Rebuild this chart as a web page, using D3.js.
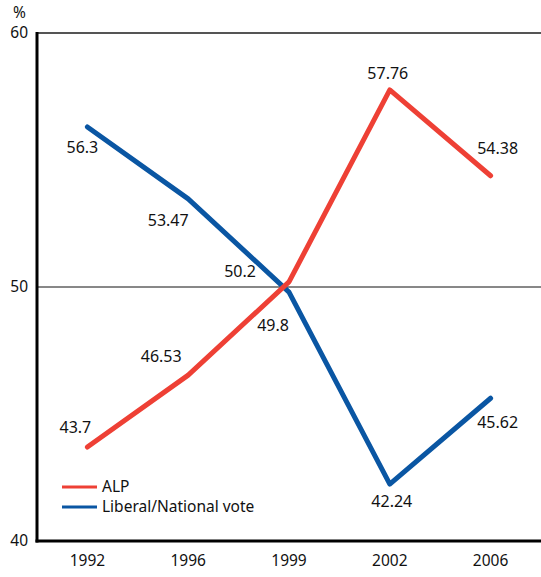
<!DOCTYPE html>
<html><head><meta charset="utf-8">
<script src="https://cdn.jsdelivr.net/npm/d3@7"></script>
<style>body{margin:0;background:#fff}svg text{font-family:"Noto Sans",sans-serif;fill:#111}</style>
</head><body><svg id="c" width="541" height="577"></svg>
<script>
const years = ["1992","1996","1999","2002","2006"];
const alp = [43.7, 46.53, 50.2, 57.76, 54.38];
const coalition = [56.3, 53.47, 49.8, 42.24, 45.62];
const seriesNames = ["ALP", "Liberal/National vote"];
const yTicks = [40, 50, 60];

// label placement (layout, not data): [dx, dy] relative to point
const alpLabelOff = [[-12,-20],[-27,-19],[-49,-11],[-2,-17],[7,-28]];
const coaLabelOff = [[-5,20],[-20,21],[-16,33],[2,17],[7,24]];

const svg = d3.select("#c");
const L = 37, R = 541, T = 33, B = 541;
const x = d3.scalePoint().domain(years).range([L, R]).padding(0.5);
const y = d3.scaleLinear().domain([40, 60]).range([B, T]);
const red = "#ee4035", blue = "#0a56a3";

svg.append("line").attr("x1", L).attr("x2", R).attr("y1", y(60)).attr("y2", y(60))
  .attr("stroke", "#555").attr("stroke-width", 2);
svg.append("line").attr("x1", L).attr("x2", R).attr("y1", y(50)).attr("y2", y(50))
  .attr("stroke", "#111").attr("stroke-width", 1);

svg.selectAll(".yt").data(yTicks).enter().append("text")
  .attr("x", 28).attr("y", d => y(d)).attr("dy", "0.35em")
  .attr("text-anchor", "end").attr("font-size", 15.5).text(d => d);
svg.append("text").attr("x", 13).attr("y", 18).attr("font-size", 15.5).text("%");

svg.selectAll(".xt").data(years).enter().append("text")
  .attr("x", d => x(d)).attr("y", 566).attr("text-anchor", "middle")
  .attr("font-size", 15.5).text(d => d);

const line = d3.line().x((d, i) => x(years[i])).y(d => y(d));
svg.append("path").datum(coalition).attr("d", line).attr("fill", "none")
  .attr("stroke", blue).attr("stroke-width", 5).attr("stroke-linecap", "round").attr("stroke-linejoin", "round");
svg.append("path").datum(alp).attr("d", line).attr("fill", "none")
  .attr("stroke", red).attr("stroke-width", 5).attr("stroke-linecap", "round").attr("stroke-linejoin", "round");

function labels(vals, offs) {
  svg.selectAll(null).data(vals).enter().append("text")
    .attr("x", (d, i) => x(years[i]) + offs[i][0])
    .attr("y", (d, i) => y(d) + offs[i][1])
    .attr("dy", "0.36em").attr("text-anchor", "middle").attr("font-size", 16)
    .text(d => d);
}
labels(alp, alpLabelOff);
labels(coalition, coaLabelOff);

svg.append("line").attr("x1", L).attr("x2", L).attr("y1", T - 1).attr("y2", B + 1.5)
  .attr("stroke", "#000").attr("stroke-width", 3);
svg.append("line").attr("x1", L - 1.5).attr("x2", R).attr("y1", B).attr("y2", B)
  .attr("stroke", "#000").attr("stroke-width", 3);

const leg = svg.append("g");
[red, blue].forEach((c, i) => {
  leg.append("line").attr("x1", 62).attr("x2", 97).attr("y1", 487 + i * 20).attr("y2", 487 + i * 20)
    .attr("stroke", c).attr("stroke-width", 3);
  leg.append("text").attr("x", 102).attr("y", 487 + i * 20).attr("dy", "0.35em")
    .attr("font-size", 15.5).text(seriesNames[i]);
});
</script></body></html>
